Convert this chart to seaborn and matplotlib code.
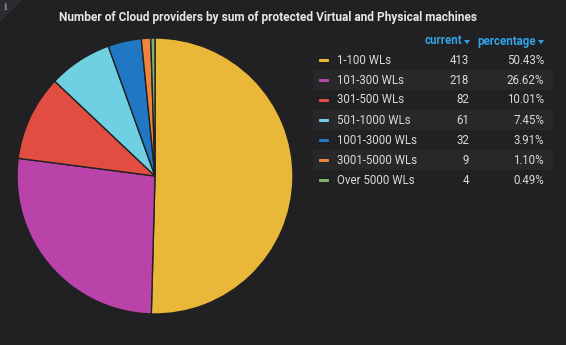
import matplotlib
matplotlib.use("Agg")
import matplotlib.pyplot as plt
from matplotlib.patches import Rectangle, Polygon, FancyBboxPatch
import seaborn as sns

labels = ["1-100 WLs", "101-300 WLs", "301-500 WLs", "501-1000 WLs",
          "1001-3000 WLs", "3001-5000 WLs", "Over 5000 WLs"]
current = [413, 218, 82, 61, 32, 9, 4]
percentage = ["50.43%", "26.62%", "10.01%", "7.45%", "3.91%", "1.10%", "0.49%"]
colors = ["#EAB839", "#BA43A9", "#E24D42", "#6ED0E0", "#1F78C1", "#EF843C", "#7EB26D"]
title = "Number of Cloud providers by sum of protected Virtual and Physical machines"

BG = "#212124"
TXT = "#d8d9da"

sns.set_style("dark")
plt.rcParams["font.family"] = ["Roboto", "DejaVu Sans"]
palette = sns.color_palette(colors)

W, H = 566, 345
fig = plt.figure(figsize=(W / 100, H / 100), dpi=100, facecolor=BG)

def fx(x):
    return x / W

def fy(y):
    return 1 - y / H

# pie
cx, cy, r = 155, 176, 138
ax = fig.add_axes([fx(cx - r), fy(cy + r), 2 * r / W, 2 * r / H])
ax.set_facecolor(BG)
ax.pie(current, colors=palette, startangle=90, counterclock=False, radius=1,
       wedgeprops=dict(edgecolor=BG, linewidth=1.0))
ax.set_xlim(-1.0, 1.0)
ax.set_ylim(-1.0, 1.0)
ax.set_aspect("equal")
ax.axis("off")

# title
fig.text(fx(268), fy(17), title, ha="center", va="center", color="#e6e6e6",
         fontsize=8.6, fontweight="bold")

# info corner
fig.patches.append(Polygon([[fx(0), fy(0)], [fx(22), fy(0)], [fx(0), fy(22)]],
                           closed=True, transform=fig.transFigure,
                           facecolor="#2c2c30", edgecolor="none"))
fig.text(fx(5), fy(7), "i", color="#8e8e8e", fontsize=7, ha="center",
         va="center", fontweight="bold", family="DejaVu Serif")

# table header
HDR = "#33A2E5"
fig.text(fx(462), fy(41), "current", ha="right", va="center", color=HDR,
         fontsize=8.3, fontweight="bold")
fig.text(fx(536), fy(41), "percentage", ha="right", va="center", color=HDR,
         fontsize=8.3, fontweight="bold")
for tx in (467, 541):
    fig.patches.append(Polygon([[fx(tx - 3), fy(40)], [fx(tx + 3), fy(40)],
                                [fx(tx), fy(44)]], closed=True,
                               transform=fig.transFigure,
                               facecolor=HDR, edgecolor="none"))

# table rows
for i, (lab, cur, pct) in enumerate(zip(labels, current, percentage)):
    y = 60 + 20 * i
    if i % 2 == 1:
        fig.patches.append(Rectangle((fx(313), fy(y + 10)), fx(553) - fx(313),
                                     fy(y - 10) - fy(y + 10),
                                     transform=fig.transFigure,
                                     facecolor="#28282b", edgecolor="none"))
    fig.patches.append(FancyBboxPatch((fx(319), fy(y + 2)), fx(10), fy(y - 1) - fy(y + 2),
                                      boxstyle="round,pad=0.0,rounding_size=0.002",
                                      transform=fig.transFigure,
                                      facecolor=palette[i], edgecolor="none"))
    fig.text(fx(337), fy(y), lab, ha="left", va="center", color=TXT, fontsize=8.3)
    fig.text(fx(469), fy(y), str(cur), ha="right", va="center", color=TXT, fontsize=8.3)
    fig.text(fx(544), fy(y), pct, ha="right", va="center", color=TXT, fontsize=8.3)

fig.savefig("out.png", dpi=100, facecolor=BG)
